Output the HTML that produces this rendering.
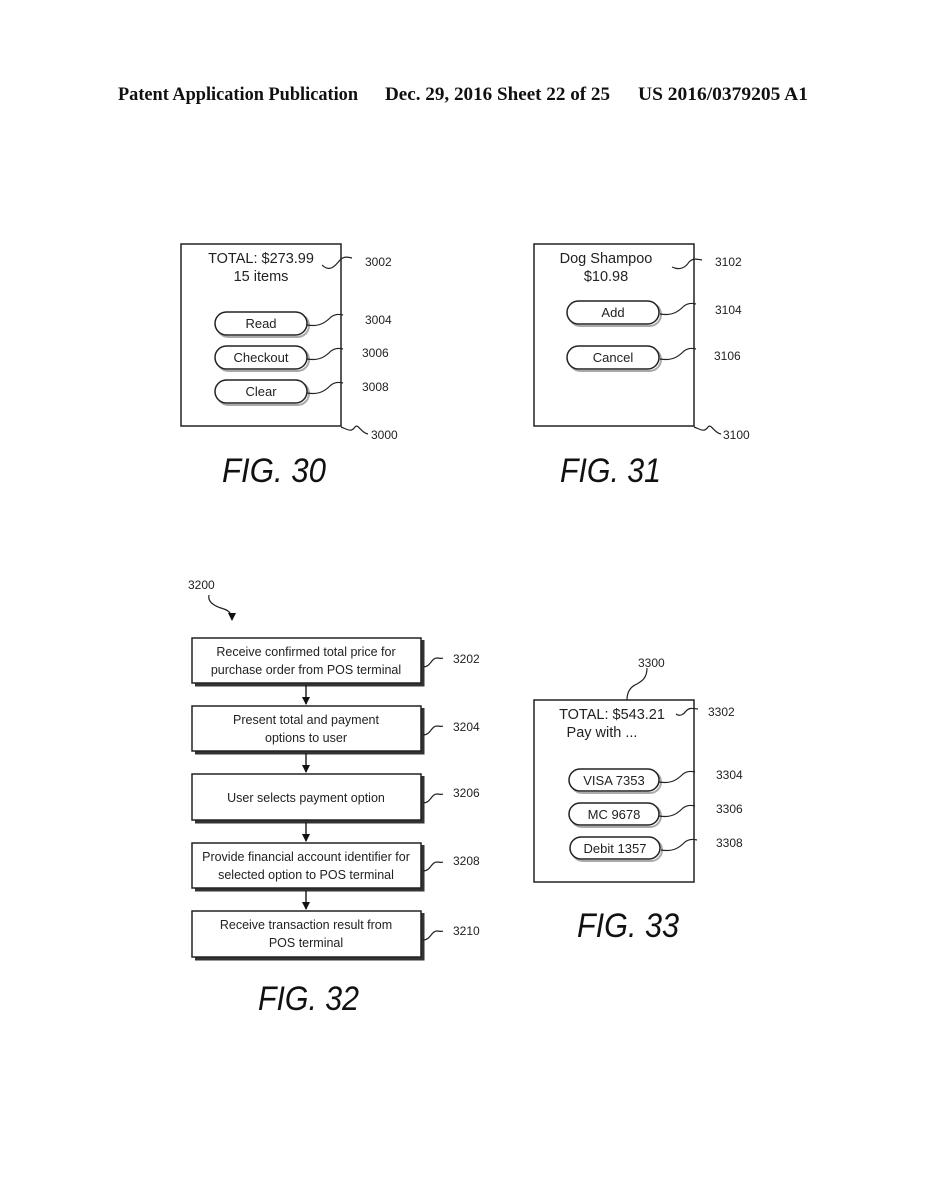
<!DOCTYPE html>
<html><head><meta charset="utf-8"><style>
html,body{margin:0;padding:0;background:#fff;}
svg{display:block;}
text{font-family:"Liberation Sans",sans-serif;fill:#222;}
.h{font-family:"Liberation Serif",serif;font-weight:bold;font-size:19px;fill:#111;}
.fig{font-style:italic;font-size:34px;fill:#111;}
.ref{font-size:12px;}
.t{font-size:14.5px;}
.b{font-size:13px;}
.f{font-size:12.5px;}
</style></head><body>
<svg width="927" height="1200" viewBox="0 0 927 1200" xmlns="http://www.w3.org/2000/svg">
<defs>
<marker id="ar" markerWidth="8" markerHeight="8" refX="7" refY="4" orient="auto" markerUnits="userSpaceOnUse"><path d="M0,0 L8,4 L0,8z" fill="#111"/></marker>
</defs>
<text class="h" x="118" y="100" textLength="240" lengthAdjust="spacingAndGlyphs">Patent Application Publication</text>
<text class="h" x="385" y="100" textLength="225" lengthAdjust="spacingAndGlyphs">Dec. 29, 2016  Sheet 22 of 25</text>
<text class="h" x="638" y="100" textLength="170" lengthAdjust="spacingAndGlyphs">US 2016/0379205 A1</text>

<g fill="none" stroke="#222" stroke-width="1.5">
<rect x="181" y="244" width="160" height="182"/>
<rect x="217" y="314" width="92" height="23" rx="11.5" stroke="#aaa" stroke-width="2"/>
<rect x="215" y="312" width="92" height="23" rx="11.5" fill="#fff"/>
<rect x="217" y="348" width="92" height="23" rx="11.5" stroke="#aaa" stroke-width="2"/>
<rect x="215" y="346" width="92" height="23" rx="11.5" fill="#fff"/>
<rect x="217" y="382" width="92" height="23" rx="11.5" stroke="#aaa" stroke-width="2"/>
<rect x="215" y="380" width="92" height="23" rx="11.5" fill="#fff"/>
<path d="M322,265 c8,8 14,0 18,-5 c4,-4 8,-3 12,-2" stroke-width="1.2"/>
<path d="M307,325 c12,2 18,-2 24,-8 c4,-3 8,-3 12,-2" stroke-width="1.2"/>
<path d="M307,359 c12,2 18,-2 24,-8 c4,-3 8,-3 12,-2" stroke-width="1.2"/>
<path d="M307,393 c12,2 18,-2 24,-8 c4,-3 8,-3 12,-2" stroke-width="1.2"/>
<path d="M341,427 c6,2 10,6 14,0 c3,-4 6,6 13,7" stroke-width="1.2"/>
<rect x="534" y="244" width="160" height="182"/>
<rect x="569" y="303" width="92" height="23" rx="11.5" stroke="#aaa" stroke-width="2"/>
<rect x="567" y="301" width="92" height="23" rx="11.5" fill="#fff"/>
<rect x="569" y="348" width="92" height="23" rx="11.5" stroke="#aaa" stroke-width="2"/>
<rect x="567" y="346" width="92" height="23" rx="11.5" fill="#fff"/>
<path d="M672,267 c8,4 14,0 17,-5 c4,-4 8,-3 13,-2" stroke-width="1.2"/>
<path d="M660,314 c12,2 18,-2 24,-8 c4,-3 8,-3 12,-2" stroke-width="1.2"/>
<path d="M660,359 c12,2 18,-2 24,-8 c4,-3 8,-3 12,-2" stroke-width="1.2"/>
<path d="M694,427 c6,2 10,6 14,0 c3,-4 6,6 13,7" stroke-width="1.2"/>
<rect x="534" y="700" width="160" height="182"/>
<rect x="571" y="771" width="90" height="22" rx="11" stroke="#aaa" stroke-width="2"/>
<rect x="569" y="769" width="90" height="22" rx="11" fill="#fff"/>
<rect x="571" y="805" width="90" height="22" rx="11" stroke="#aaa" stroke-width="2"/>
<rect x="569" y="803" width="90" height="22" rx="11" fill="#fff"/>
<rect x="572" y="839" width="90" height="22" rx="11" stroke="#aaa" stroke-width="2"/>
<rect x="570" y="837" width="90" height="22" rx="11" fill="#fff"/>
<path d="M676,714 c4,3 8,0 10,-3 c3,-3 5,-3 12,-2" stroke-width="1.2"/>
<path d="M627,700 c0,-10 5,-14 10,-16 c5,-3 10,-6 10,-16" stroke-width="1.2"/>
<path d="M659,782 c12,2 18,-2 24,-8 c4,-3 8,-3 12,-2" stroke-width="1.2"/>
<path d="M659,816 c12,2 18,-2 24,-8 c4,-3 8,-3 12,-2" stroke-width="1.2"/>
<path d="M661,850 c12,2 18,-2 24,-8 c4,-3 8,-3 12,-2" stroke-width="1.2"/>
<g stroke="#333" stroke-width="3">
<path d="M195,685 H423 V640"/><path d="M195,753 H423 V708"/><path d="M195,822 H423 V776"/><path d="M195,890 H423 V845"/><path d="M195,959 H423 V913"/>
</g>
<rect x="192" y="638" width="229" height="45" fill="#fff"/>
<rect x="192" y="706" width="229" height="45" fill="#fff"/>
<rect x="192" y="774" width="229" height="46" fill="#fff"/>
<rect x="192" y="843" width="229" height="45" fill="#fff"/>
<rect x="192" y="911" width="229" height="46" fill="#fff"/>
<path d="M306,685 V704" marker-end="url(#ar)"/>
<path d="M306,753 V772" marker-end="url(#ar)"/>
<path d="M306,822 V841" marker-end="url(#ar)"/>
<path d="M306,890 V909" marker-end="url(#ar)"/>
<path d="M423,667 c8,0 8,-9 14,-9 c3,0 4,1 6,0" stroke-width="1.2"/>
<path d="M423,735 c8,0 8,-9 14,-9 c3,0 4,1 6,0" stroke-width="1.2"/>
<path d="M423,803 c8,0 8,-9 14,-9 c3,0 4,1 6,0" stroke-width="1.2"/>
<path d="M423,871 c8,0 8,-9 14,-9 c3,0 4,1 6,0" stroke-width="1.2"/>
<path d="M423,940 c8,0 8,-9 14,-9 c3,0 4,1 6,0" stroke-width="1.2"/>
<path d="M209,595 c-2,8 8,12 15,14 c6,2 8,6 8,11" stroke-width="1.2" marker-end="url(#ar)"/>
</g>

<text class="t" x="261" y="263" text-anchor="middle">TOTAL: $273.99</text>
<text class="t" x="261" y="281" text-anchor="middle">15 items</text>
<text class="b" x="261" y="328" text-anchor="middle">Read</text>
<text class="b" x="261" y="362" text-anchor="middle">Checkout</text>
<text class="b" x="261" y="396" text-anchor="middle">Clear</text>
<text class="ref" x="365" y="266">3002</text>
<text class="ref" x="365" y="324">3004</text>
<text class="ref" x="362" y="357">3006</text>
<text class="ref" x="362" y="391">3008</text>
<text class="ref" x="371" y="439">3000</text>
<text class="fig" x="222" y="482" textLength="104" lengthAdjust="spacingAndGlyphs">FIG. 30</text>
<text class="t" x="606" y="263" text-anchor="middle">Dog Shampoo</text>
<text class="t" x="606" y="281" text-anchor="middle">$10.98</text>
<text class="b" x="613" y="317" text-anchor="middle">Add</text>
<text class="b" x="613" y="362" text-anchor="middle">Cancel</text>
<text class="ref" x="715" y="266">3102</text>
<text class="ref" x="715" y="314">3104</text>
<text class="ref" x="714" y="360">3106</text>
<text class="ref" x="723" y="439">3100</text>
<text class="fig" x="560" y="482" textLength="101" lengthAdjust="spacingAndGlyphs">FIG. 31</text>
<text class="t" x="612" y="719" text-anchor="middle">TOTAL: $543.21</text>
<text class="t" x="602" y="737" text-anchor="middle">Pay with ...</text>
<text class="b" x="614" y="785" text-anchor="middle">VISA 7353</text>
<text class="b" x="614" y="819" text-anchor="middle">MC 9678</text>
<text class="b" x="615" y="853" text-anchor="middle">Debit 1357</text>
<text class="ref" x="638" y="667">3300</text>
<text class="ref" x="708" y="716">3302</text>
<text class="ref" x="716" y="779">3304</text>
<text class="ref" x="716" y="813">3306</text>
<text class="ref" x="716" y="847">3308</text>
<text class="fig" x="577" y="937" textLength="102" lengthAdjust="spacingAndGlyphs">FIG. 33</text>
<text class="ref" x="188" y="589">3200</text>
<text class="f" x="306" y="656" text-anchor="middle">Receive confirmed total price for</text>
<text class="f" x="306" y="674" text-anchor="middle">purchase order from POS terminal</text>
<text class="f" x="306" y="724" text-anchor="middle">Present total and payment</text>
<text class="f" x="306" y="742" text-anchor="middle">options to user</text>
<text class="f" x="306" y="802" text-anchor="middle">User selects payment option</text>
<text class="f" x="306" y="861" text-anchor="middle">Provide financial account identifier for</text>
<text class="f" x="306" y="879" text-anchor="middle">selected option to POS terminal</text>
<text class="f" x="306" y="929" text-anchor="middle">Receive transaction result from</text>
<text class="f" x="306" y="947" text-anchor="middle">POS terminal</text>
<text class="ref" x="453" y="663">3202</text>
<text class="ref" x="453" y="731">3204</text>
<text class="ref" x="453" y="797">3206</text>
<text class="ref" x="453" y="865">3208</text>
<text class="ref" x="453" y="935">3210</text>
<text class="fig" x="258" y="1010" textLength="101" lengthAdjust="spacingAndGlyphs">FIG. 32</text>
</svg>
</body></html>
